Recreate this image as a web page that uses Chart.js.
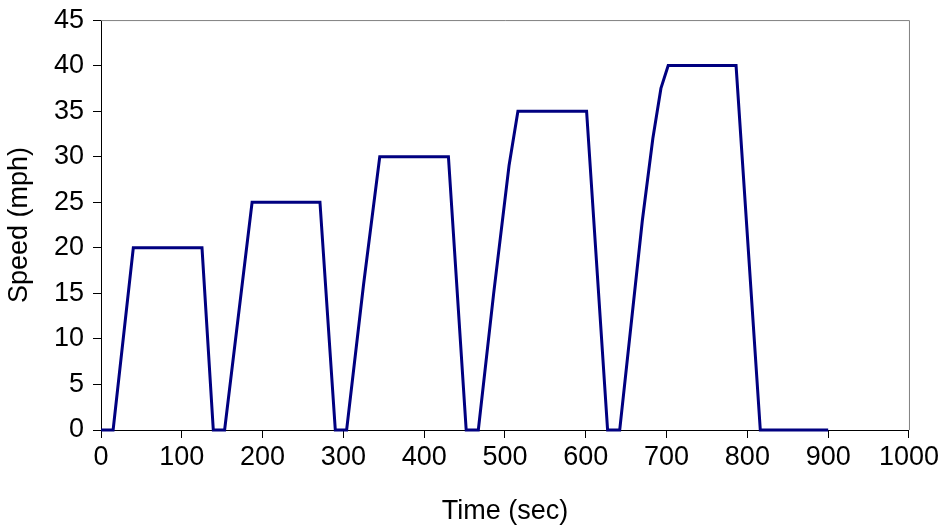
<!DOCTYPE html>
<html>
<head>
<meta charset="utf-8">
<script src="https://cdn.jsdelivr.net/npm/chart.js@4.4.1/dist/chart.umd.min.js"></script>
<style>
  html, body { margin: 0; padding: 0; background: #fff; }
  #wrap { width: 942px; height: 529px; }
</style>
</head>
<body>
<div id="wrap"><canvas id="speedChart" width="942" height="529"></canvas></div>
<script>
// drive cycle
const timeSec = [0, 15, 40, 125, 139, 153, 187, 271, 290, 304, 325, 345, 430, 452,
  467, 486, 505, 516, 601, 627, 642, 656, 670, 683, 693, 702, 786, 816, 900];
const speedMph = [0, 0, 20, 20, 0, 0, 25, 25, 0, 0, 16, 30, 30, 0,
  0, 15, 29, 35, 35, 0, 0, 11.5, 23, 32, 37.5, 40, 40, 0, 0];

const xTicks = [0, 100, 200, 300, 400, 500, 600, 700, 800, 900, 1000];
const yTicks = [0, 5, 10, 15, 20, 25, 30, 35, 40, 45];

const points = timeSec.map((t, i) => ({ x: t, y: speedMph[i] }));

const fontFam = 'Arial, "Liberation Sans", sans-serif';

// grey frame on top and right of the plot area
const framePlugin = {
  id: 'frame',
  afterDraw(chart) {
    const { ctx, chartArea } = chart;
    ctx.save();
    ctx.strokeStyle = '#808080';
    ctx.lineWidth = 1;
    ctx.beginPath();
    ctx.moveTo(chartArea.left, chartArea.top + 0.5);
    ctx.lineTo(chartArea.right + 0.5, chartArea.top + 0.5);
    ctx.lineTo(chartArea.right + 0.5, chartArea.bottom);
    ctx.stroke();
    ctx.restore();
  }
};

new Chart(document.getElementById('speedChart'), {
  type: 'line',
  data: {
    datasets: [{
      data: points,
      borderColor: '#000080',
      borderWidth: 3,
      pointRadius: 0,
      tension: 0,
      fill: false,
      clip: 4
    }]
  },
  options: {
    responsive: false,
    animation: false,
    layout: { padding: { left: 0, right: 33, top: 5, bottom: 0 } },
    plugins: { legend: { display: false }, tooltip: { enabled: false } },
    scales: {
      x: {
        type: 'linear',
        min: 0,
        max: 1000,
        afterBuildTicks: (s) => { s.ticks = xTicks.map(v => ({ value: v })); },
        afterFit: (s) => { s.height = 99; },
        border: { color: '#000', width: 1 },
        grid: { display: true, drawOnChartArea: false, drawTicks: true, tickLength: 8, color: '#000' },
        ticks: { color: '#000', padding: 3, maxRotation: 0, callback: (v) => String(v), font: { family: fontFam, size: 27 } },
        title: { display: true, text: 'Time (sec)', color: '#000', padding: { top: 0, bottom: 1 }, font: { family: fontFam, size: 27 } }
      },
      y: {
        min: 0,
        max: 45,
        afterBuildTicks: (s) => { s.ticks = yTicks.map(v => ({ value: v })); },
        afterFit: (s) => { s.width = 101; },
        border: { color: '#000', width: 1 },
        grid: { display: true, drawOnChartArea: false, drawTicks: true, tickLength: 8, color: '#000' },
        ticks: { color: '#000', padding: 9, callback: (v) => String(v), font: { family: fontFam, size: 27, lineHeight: 0.82 } },
        title: { display: true, text: 'Speed (mph)', color: '#000', padding: { top: 3, bottom: 0 }, font: { family: fontFam, size: 27 } }
      }
    }
  },
  plugins: [framePlugin]
});
</script>
</body>
</html>
